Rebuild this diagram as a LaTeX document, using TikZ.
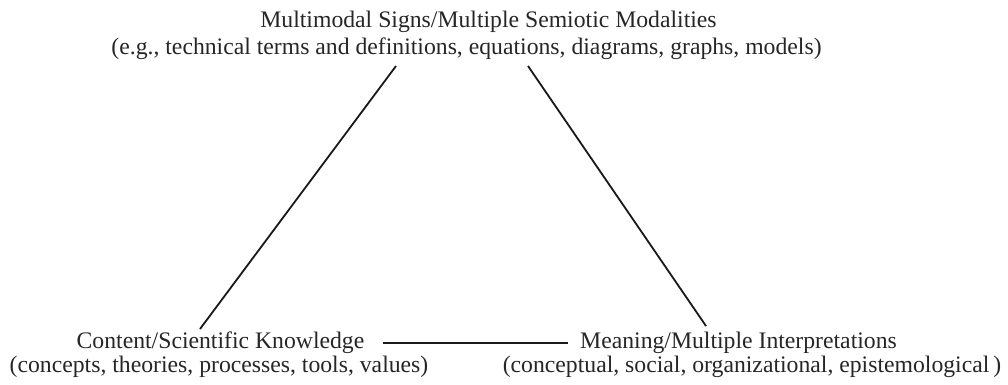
\documentclass[tikz,border=0pt]{standalone}
\usepackage{fontspec}
\setmainfont{Liberation Serif}
\begin{document}
\begin{tikzpicture}[x=1pt,y=-1pt,
  lbl/.style={inner sep=0pt,anchor=base,text=black!85,font=\fontsize{23.7}{26}\selectfont},
  edge/.style={line width=1.8pt,black!90}]
\useasboundingbox (0,0) rectangle (1008,384);
\node[lbl] (t1) at (488.5,27) {Multimodal Signs/Multiple Semiotic Modalities};
\node[lbl] (t2) at (466.5,54) {(e.g., technical terms and definitions, equations, diagrams, graphs, models)};
\node[lbl] (l1) at (220.5,348) {Content/Scientific Knowledge};
\node[lbl] (l2) at (219,372) {(concepts, theories, processes, tools, values)};
\node[lbl] (r1) at (738.5,348) {Meaning/Multiple Interpretations};
\node[lbl] (r2) at (752,372) {(conceptual, social, organizational, epistemological\,)};
\coordinate (a1) at (396,66);
\coordinate (a2) at (200,329);
\coordinate (b1) at (528,66);
\coordinate (b2) at (706,326);
\coordinate (c1) at (383,343);
\coordinate (c2) at (568,343);
\draw[edge] (a1) -- (a2);
\draw[edge] (b1) -- (b2);
\draw[edge,line width=2.6pt] (c1) -- (c2);
\end{tikzpicture}
\end{document}
